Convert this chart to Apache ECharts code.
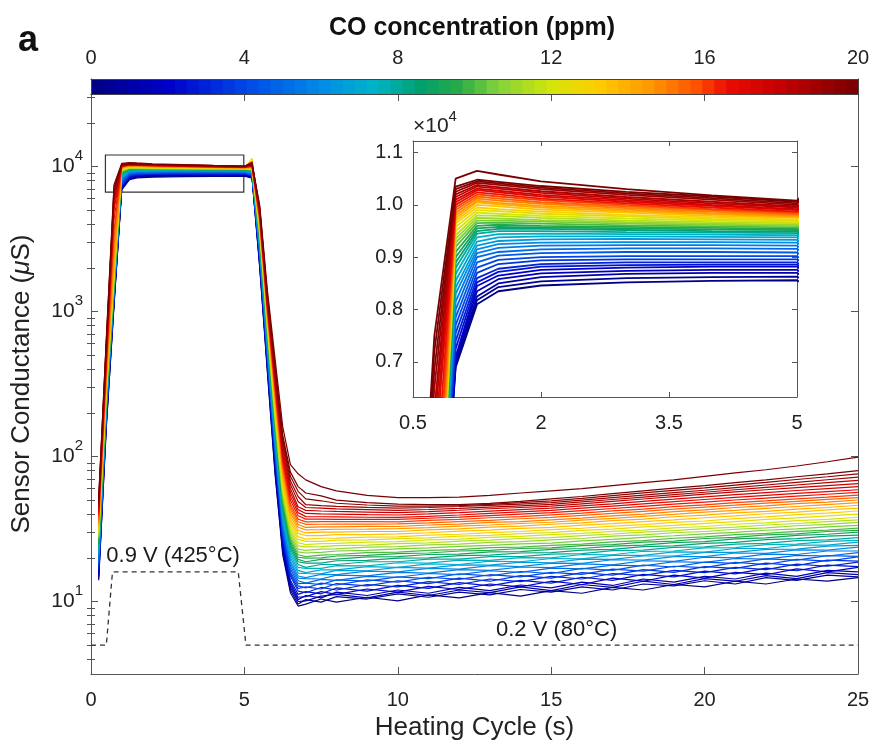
<!DOCTYPE html>
<html><head><meta charset="utf-8">
<script src="https://cdn.jsdelivr.net/npm/echarts@6/dist/echarts.min.js"></script>
<style>html,body{margin:0;padding:0;background:#fff}#c{width:872px;height:746px}</style>
</head><body><div id="c"></div>
<script>
// ---------- data ----------
const riseTimes = [0.25,0.5,0.75,1,1.25,1.5,2,3,4,5,5.25,5.5,5.75,6,6.25,6.5,6.75];
const tailTimes = [7,7.5,8,9,10,11,12,13,14,15,16,17,18,19,20,21,22,23,24,25];
const concentrations = [0,0.5,1,1.5,2,2.5,3,3.5,4,4.5,5,5.5,6,6.5,7,7.5,8,8.5,9,9.5,10,10.5,11,11.5,12,12.5,13,13.5,14,14.5,15,15.5,16,16.5,17,17.5,18,18.5,19,19.5,20,20];
const riseValues = [
[14,160,1100,6900,8100,8350,8460,8520,8550,8560,8300,2000,380,75,21,11.5,9.3],
[14.5,165,1120,6950,8180,8430,8540,8600,8620,8630,8400,2050,395,78,22,12,9.6],
[15,170,1150,7000,8250,8500,8620,8680,8700,8700,8450,2100,410,82,23,12.5,10],
[15.5,175,1170,7050,8350,8580,8690,8740,8760,8760,8500,2150,420,86,24,13,10.3],
[16,180,1200,7100,8450,8650,8760,8800,8820,8820,8550,2200,430,90,25,13.5,10.7],
[16.5,185,1230,7250,8520,8720,8820,8850,8860,8860,8600,2270,445,94,26,14,11.2],
[17,190,1260,7400,8600,8780,8870,8900,8900,8900,8650,2330,460,97,27.5,15,11.8],
[17.5,195,1290,7550,8700,8870,8940,8960,8960,8960,8700,2400,475,101,29,15.5,12.3],
[18,200,1320,7700,8800,8950,9000,9020,9020,9020,8750,2450,490,105,30,16,12.8],
[18.5,205,1350,7850,8900,9030,9080,9100,9100,9090,8820,2520,505,110,31,16.8,13.3],
[19,210,1380,8000,9000,9100,9150,9170,9170,9160,8900,2580,525,115,32.5,17.5,13.9],
[20,215,1400,8150,9080,9180,9220,9230,9230,9220,8950,2640,540,120,34,18.3,14.5],
[21,220,1420,8300,9150,9250,9280,9290,9290,9280,9000,2700,560,125,35,19,15],
[21.5,225,1440,8420,9220,9310,9340,9350,9340,9330,9060,2780,580,130,37,20,15.7],
[22,230,1460,8550,9300,9380,9400,9400,9390,9380,9120,2850,600,135,38.5,21,16.4],
[23,235,1480,8680,9380,9440,9450,9440,9430,9420,9180,2920,620,140,40,22,17.2],
[24,240,1500,8800,9450,9500,9500,9480,9470,9460,9250,3000,640,145,42,23,18],
[24.5,245,1520,8900,9500,9540,9540,9520,9500,9490,9300,3080,660,152,44,24,18.8],
[25,250,1540,9000,9550,9580,9570,9550,9530,9520,9350,3150,680,158,46,25,19.5],
[26,255,1560,9100,9600,9620,9600,9580,9560,9540,9400,3220,700,164,48,26,20.2],
[27,260,1600,9200,9650,9660,9640,9610,9590,9570,9450,3300,720,170,50,27,21],
[27.5,265,1650,9280,9700,9700,9680,9640,9620,9600,9500,3380,745,178,52.5,28.2,22],
[28,270,1700,9350,9750,9740,9710,9670,9640,9620,9520,3470,770,186,55,29.5,23],
[29,280,1750,9420,9800,9790,9750,9700,9670,9650,9560,3560,795,193,57.5,31,24.2],
[30,290,1800,9500,9850,9830,9790,9740,9700,9670,9600,3650,820,200,60,32,25.5],
[30.5,300,1850,9580,9900,9880,9830,9780,9730,9700,9650,3740,845,210,63,33.7,26.8],
[31,310,1900,9650,9950,9920,9870,9810,9760,9720,11400,3820,870,220,66,35.5,28],
[32,320,1950,9700,10000,9970,9910,9850,9790,9750,9750,3910,895,230,69,37,29.5],
[33,330,2000,9750,10050,10010,9950,9880,9820,9770,9800,4000,920,240,72,39,31],
[34,345,2400,9800,10080,10040,9980,9910,9840,9790,9850,4100,950,252,76,41,32.5],
[35,360,2800,9850,10120,10080,10020,9940,9870,9810,9900,4200,975,265,80,43,34],
[36.5,390,3200,9900,10160,10120,10050,9970,9900,9830,9950,4300,1000,278,84,45,35.5],
[38,420,3600,9950,10200,10160,10090,10000,9920,9850,10000,4400,1030,290,88,47,37],
[39.5,445,4300,10000,10240,10200,10120,10030,9950,9870,10050,4500,1060,305,93,50,39],
[41,470,5000,10050,10280,10240,10160,10060,9980,9900,10100,4600,1090,320,98,53,41],
[42.5,495,5400,10100,10310,10270,10190,10090,10000,9920,10150,4700,1120,335,104,56.5,43],
[44,520,5800,10150,10350,10310,10230,10120,10030,9950,10200,4800,1150,350,110,60,45],
[45.5,550,6100,10200,10380,10340,10260,10150,10060,9970,10250,4900,1190,370,118,64,49],
[47,580,6500,10250,10420,10380,10300,10190,10100,10000,10800,5000,1230,385,126,68,53],
[48.5,610,6850,10300,10450,10410,10330,10220,10130,10030,10350,5100,1270,400,133,73,57.5],
[50,640,7200,10350,10480,10440,10360,10250,10160,10060,10400,5200,1300,420,140,78,62],
[52,660,7500,10500,10650,10580,10450,10300,10180,10080,10500,5400,1400,470,160,88,76]
];
const tailValues = [
[9.6,10.4,9.9,10.7,10.1,11.1,10.6,11.5,10.9,11.9,11.4,12.5,12.0,13.1,12.6,13.8,13.2,14.3,13.8,14.6],
[10.3,9.9,10.8,10.4,11.3,10.7,11.6,11.1,12.1,11.6,12.6,12.0,13.2,12.8,13.9,13.2,14.6,14.0,15.2,14.8],
[10.1,10.9,11.2,10.6,11.6,11.0,12.0,11.5,12.6,11.9,13.1,12.5,13.8,13.1,14.4,13.8,15.1,14.4,15.8,15.3],
[11.0,10.6,11.6,11.0,12.0,11.4,12.5,11.9,13.0,12.4,13.6,12.9,14.3,13.6,14.9,14.3,15.7,14.9,16.4,16.0],
[10.8,11.7,11.2,12.2,11.6,12.7,12.1,13.2,12.6,13.8,13.1,14.5,13.8,15.2,14.5,15.9,15.3,16.8,16.0,17.2],
[11.7,11.3,12.4,11.8,12.9,12.3,13.5,12.8,14.0,13.4,14.7,14.0,15.4,14.8,16.2,15.5,17.0,16.3,17.8,17.4],
[11.5,12.5,12.0,13.1,12.6,13.7,13.1,14.3,13.7,14.9,14.3,15.6,15.1,16.4,15.8,17.2,16.6,18.1,17.5,18.7],
[12.6,12.2,13.3,12.8,13.9,13.3,14.5,13.8,15.1,14.5,15.8,15.2,16.6,15.9,17.4,16.9,18.4,17.7,19.3,19.0],
[12.4,13.4,13.0,14.1,13.6,14.7,14.2,15.3,14.8,15.9,15.4,16.7,16.2,17.5,17.1,18.6,18.0,19.5,19.0,20.3],
[13.4,13.1,14.1,13.8,14.8,14.4,15.5,15.0,16.1,15.6,16.9,16.4,17.8,17.3,18.7,18.3,19.7,19.3,20.7,20.5],
[13.4,14.2,14.0,14.9,14.7,15.6,15.3,16.3,15.9,17.0,16.8,17.8,17.6,18.8,18.6,19.8,19.6,20.8,20.6,21.7],
[14.4,14.3,15.2,15.0,15.9,15.7,16.6,16.4,17.3,17.1,18.2,17.9,19.1,18.9,20.2,20.0,21.2,21.1,22.3,22.3],
[14.6,15.4,15.3,16.2,16.0,16.9,16.7,17.7,17.4,18.4,18.3,19.4,19.3,20.4,20.4,21.6,21.5,22.7,22.6,23.7],
[15.6,15.5,16.4,16.3,17.2,17.0,17.9,17.8,18.7,18.5,19.6,19.5,20.6,20.6,21.8,21.8,22.9,23.0,24.1,24.4],
[15.8,16.5,16.5,17.4,17.2,18.2,18.0,19.0,18.8,19.8,19.7,20.8,20.8,22.0,21.9,23.2,23.2,24.5,24.5,25.7],
[16.9,16.9,17.7,17.6,18.5,18.4,19.3,19.2,20.1,20.0,21.1,21.0,22.2,22.3,23.4,23.5,24.7,24.9,26.0,26.4],
[17.2,18.0,18.0,18.8,18.8,19.6,19.6,20.4,20.4,21.2,21.4,22.4,22.6,23.6,23.8,24.9,25.2,26.3,26.6,27.6],
[18.4,18.4,19.1,19.2,19.9,20.0,20.7,20.9,21.6,21.7,22.6,22.9,23.9,24.2,25.2,25.6,26.7,27.1,28.2,28.7],
[18.8,19.5,19.6,20.3,20.4,21.1,21.2,22.0,22.1,22.9,23.2,24.1,24.5,25.5,25.9,27.0,27.5,28.6,29.1,30.1],
[19.9,20.0,20.6,20.8,21.4,21.6,22.3,22.5,23.2,23.4,24.3,24.7,25.7,26.1,27.2,27.7,28.8,29.3,30.4,30.9],
[20.4,20.9,21.1,21.7,21.9,22.5,22.8,23.5,23.7,24.4,24.9,25.8,26.3,27.3,27.9,28.9,29.5,30.5,31.1,32.1],
[21.6,21.8,22.3,22.5,23.1,23.4,24.0,24.4,25.0,25.3,26.2,26.8,27.7,28.4,29.3,30.0,31.0,31.7,32.7,33.5],
[22.5,23.0,23.1,23.7,23.9,24.6,24.9,25.6,25.9,26.6,27.2,28.2,28.8,29.8,30.4,31.5,32.2,33.3,34.0,35.1],
[23.8,23.9,24.3,24.5,25.1,25.4,26.1,26.5,27.2,27.6,28.5,29.2,30.1,30.8,31.8,32.6,33.7,34.5,35.6,36.5],
[24.7,25.1,25.2,25.7,25.9,26.6,26.9,27.7,28.1,28.9,29.5,30.5,31.1,32.2,32.9,34.1,34.9,36.1,36.9,38.1],
[26.0,26.0,26.5,26.6,27.1,27.5,28.2,28.6,29.4,29.9,30.9,31.6,32.7,33.5,34.6,35.5,36.8,37.7,39.0,40.0],
[26.9,27.3,27.4,27.8,27.9,28.7,29.1,29.9,30.4,31.3,32.0,33.1,33.9,35.1,35.9,37.3,38.3,39.7,40.7,42.1],
[28.5,28.5,28.9,28.9,29.3,29.8,30.6,31.1,31.9,32.5,33.6,34.4,35.6,36.6,37.8,38.9,40.3,41.4,42.8,44.0],
[29.7,30.1,30.1,30.4,30.4,31.2,31.7,32.6,33.1,34.1,34.9,36.1,37.0,38.4,39.4,40.9,41.9,43.4,44.5,46.1],
[31.2,31.3,31.5,31.6,31.8,32.3,33.1,33.7,34.5,35.2,36.4,37.4,38.7,39.9,41.3,42.5,43.9,45.2,46.6,48.0],
[32.4,32.7,32.7,33.0,32.9,33.7,34.2,35.1,35.6,36.6,37.6,39.0,40.1,41.7,42.9,44.5,45.7,47.3,48.5,50.1],
[34.0,34.1,34.2,34.2,34.3,34.9,35.6,36.3,37.2,38.0,39.3,40.5,41.9,43.3,44.8,46.2,47.7,49.1,50.6,52.0],
[35.4,35.6,35.5,35.6,35.4,36.3,36.8,37.8,38.5,39.6,40.7,42.2,43.4,45.1,46.4,48.1,49.4,51.1,52.4,54.1],
[37.0,37.0,36.9,36.8,36.8,37.5,38.2,39.1,40.0,41.0,42.4,43.8,45.3,46.9,48.5,50.1,51.7,53.3,54.9,56.5],
[38.5,38.4,38.3,38.1,38.0,38.7,39.5,40.5,41.5,42.5,44.0,45.5,47.1,48.8,50.5,52.2,53.9,55.6,57.3,59.0],
[40.5,40.2,40.0,39.7,39.5,40.2,41.0,42.0,43.0,44.0,45.6,47.2,49.0,50.8,52.7,54.6,56.4,58.3,60.1,62.0],
[42.5,42.1,41.8,41.4,41.0,41.7,42.6,43.6,44.5,45.5,47.2,49.0,50.9,52.9,55.0,57.0,59.0,61.0,63.0,65.0],
[44.5,44.0,43.5,43.0,42.5,43.1,43.9,44.8,45.7,46.7,48.6,50.5,52.5,54.6,56.7,59.0,61.3,63.6,66.0,68.5],
[46.5,45.8,45.3,44.6,44.0,44.5,45.2,46.0,47.0,48.0,50.0,52.1,54.2,56.3,58.5,61.0,63.6,66.3,69.1,72.0],
[51,49.5,47.6,46.3,45.5,45.5,45.8,46.7,48.0,49.5,51.5,53.8,56.1,58.4,60.7,63.5,66.3,69.4,72.5,76.0],
[56,53.5,50,48,47,46.5,46.5,47.5,49,51,53,55.5,58,60.5,63,66,69,72.5,76,80],
[69,62,58,54,52,52,52.5,54,56,58,60,63,66,69,73,77,81,86,92,99]
];
const heaterTimes = [0,0.5,0.7,4.8,5.05,25];
const heaterLevels = [5,5,16,16,5,5];
const annotationTexts = ['0.9 V (425°C)','0.2 V (80°C)'];
const annotationTimes = [0.5,13.2];
const annotationLevels = [20.5,6.4];
const zoomBoxTimes = [0.47,4.98];
const zoomBoxLevels = [6650,12000];
const colorbarTicks = [0,4,8,12,16,20];
const mainYTicks = [10,100,1000,10000];
const mainYMinorTicks = [4,5,6,7,8,9,20,30,40,50,60,70,80,90,200,300,400,500,600,700,800,900,2000,3000,4000,5000,6000,7000,8000,9000,20000,30000];
const insetXTicks = [0.5,2,3.5,5];
const insetYTicks = [7000,8000,9000,10000,11000];

// ---------- colormap ----------
const cmapStops = [[0,[0,0,130]],[0.1,[0,0,200]],[0.2,[0,70,230]],[0.3,[0,140,230]],[0.37,[0,180,200]],
 [0.43,[0,160,110]],[0.48,[40,170,70]],[0.53,[130,210,60]],[0.6,[210,230,10]],[0.66,[255,205,0]],
 [0.73,[255,150,0]],[0.79,[255,80,0]],[0.83,[235,10,0]],[0.9,[195,0,0]],[1,[120,0,0]]];
function cmap(p){
  p = Math.max(0, Math.min(1, p));
  for (let i = 1; i < cmapStops.length; i++){
    const a = cmapStops[i-1], b = cmapStops[i];
    if (p <= b[0]){
      const f = (p - a[0]) / (b[0] - a[0]);
      const c = a[1].map((v, j) => Math.round(v + (b[1][j] - v) * f));
      return 'rgb(' + c.join(',') + ')';
    }
  }
  return 'rgb(120,0,0)';
}
const nCells = 64;
const colorbarCells = [];
for (let i = 0; i < nCells; i++) colorbarCells.push([i*20/nCells, (i+1)*20/nCells, (i+0.5)/nCells]);

// ---------- chart ----------
const FONT = 'Liberation Sans, Arial, Helvetica, sans-serif';
const AX = '#555';
const TXT = '#222';
const chart = echarts.init(document.getElementById('c'), null, {renderer:'canvas'});

const series = [];
concentrations.forEach((c, k) => {
  const col = cmap(c/20);
  const pts = riseTimes.map((t,i)=>[t, riseValues[k][i]]).concat(tailTimes.map((t,i)=>[t, tailValues[k][i]]));
  series.push({type:'line', xAxisIndex:0, yAxisIndex:0, data:pts, symbol:'none', silent:true,
    lineStyle:{width:1.2, color:col}, itemStyle:{color:col}, z:2});
});
concentrations.forEach((c, k) => {
  const col = cmap(c/20);
  const pts = riseTimes.slice(0,11).map((t,i)=>[t, riseValues[k][i]]);
  series.push({type:'line', xAxisIndex:2, yAxisIndex:4, data:pts, symbol:'none', silent:true, clip:true,
    lineStyle:{width:1.8, color:col}, itemStyle:{color:col}, z:2});
});
series.push({type:'line', xAxisIndex:0, yAxisIndex:0, symbol:'none', silent:true,
  data: heaterTimes.map((t,i)=>[t, heaterLevels[i]]),
  lineStyle:{type:[5,4], width:1.3, color:'#333'}, z:3,
  markArea:{silent:true, itemStyle:{color:'rgba(0,0,0,0)', borderColor:'#333', borderWidth:1.2},
    data:[[{coord:[zoomBoxTimes[0], zoomBoxLevels[0]]},{coord:[zoomBoxTimes[1], zoomBoxLevels[1]]}]]}
});
series.push({type:'custom', xAxisIndex:0, yAxisIndex:0, silent:true, z:4,
  data: annotationTexts.map((s,i)=>[annotationTimes[i], annotationLevels[i], i]),
  renderItem:(params, api) => {
    const p = api.coord([api.value(0), api.value(1)]);
    return {type:'text', x:p[0], y:p[1], style:{text:annotationTexts[api.value(2)], fill:'#1a1a1a',
      font:'22px '+FONT, align:'left', verticalAlign:'middle'}};
  }});
series.push({type:'custom', xAxisIndex:4, yAxisIndex:6, silent:true, data: colorbarCells,
  renderItem:(params, api) => {
    const p0 = api.coord([api.value(0), 0]);
    const p1 = api.coord([api.value(1), 1]);
    return {type:'rect', shape:{x:p0[0], y:p1[1], width:p1[0]-p0[0]+0.7, height:p0[1]-p1[1]},
      style:{fill:cmap(api.value(2))}};
  }, z:1});

const supLabel = v => '{b|10}{s|' + Math.round(Math.log10(v)) + '}';
const noSplit = {show:false};
const line1 = {show:true, onZero:false, lineStyle:{color:AX, width:1}};

const option = {
  animation:false,
  textStyle:{fontFamily:FONT},
  graphic:[
    {type:'text', x:18, y:41, style:{text:'a', font:'bold 36px '+FONT, fill:'#111', align:'left', verticalAlign:'middle'}},
    {type:'text', x:472, y:28, style:{text:'CO concentration (ppm)', font:'bold 25px '+FONT, fill:'#111', align:'center', verticalAlign:'middle'}}
  ],
  grid:[
    {left:91, top:94, width:767, height:580, containLabel:false, outerBoundsMode:'none'},
    {left:413, top:141, width:384, height:256, containLabel:false, outerBoundsMode:'none'},
    {left:91, top:79, width:767, height:15, containLabel:false, outerBoundsMode:'none'}
  ],
  xAxis:[
    {gridIndex:0, type:'value', min:0, max:25, interval:5, position:'bottom', axisLine:line1,
      axisTick:{inside:true, length:7, lineStyle:{color:AX}}, splitLine:noSplit,
      axisLabel:{fontSize:20, color:TXT, margin:16},
      name:'Heating Cycle (s)', nameLocation:'middle', nameGap:41, nameTextStyle:{fontSize:26, color:TXT}},
    {gridIndex:0, type:'value', min:0, max:25, interval:5, position:'top', axisLine:line1,
      axisTick:{inside:true, length:7, lineStyle:{color:AX}}, axisLabel:{show:false}, splitLine:noSplit},
    {gridIndex:1, type:'value', min:0.5, max:5, position:'bottom', axisLine:line1,
      axisTick:{inside:true, length:5, customValues:insetXTicks, lineStyle:{color:AX}}, splitLine:noSplit,
      axisLabel:{fontSize:20, color:TXT, margin:16, customValues:insetXTicks}},
    {gridIndex:1, type:'value', min:0.5, max:5, position:'top', axisLine:line1,
      axisTick:{inside:true, length:5, customValues:insetXTicks, lineStyle:{color:AX}}, axisLabel:{show:false}, splitLine:noSplit},
    {gridIndex:2, type:'value', min:0, max:20, interval:4, position:'top', z:5,
      axisLine:{show:true, onZero:false, lineStyle:{color:'#444', width:1}}, axisTick:{show:false}, splitLine:noSplit,
      axisLabel:{fontSize:20, color:TXT, margin:11}},
    {gridIndex:2, type:'value', min:0, max:20, position:'bottom', z:5,
      axisLine:{show:true, onZero:false, lineStyle:{color:'#444', width:1}}, axisTick:{show:false}, axisLabel:{show:false}, splitLine:noSplit}
  ],
  yAxis:[
    {gridIndex:0, type:'log', logBase:10, min:Math.pow(10,0.5), max:Math.pow(10,4.5), position:'left', axisLine:line1,
      axisTick:{inside:true, length:7, customValues:mainYTicks, lineStyle:{color:AX}}, splitLine:noSplit, minorTick:{show:false},
      axisLabel:{customValues:mainYTicks, margin:8, color:TXT, formatter:supLabel,
        rich:{b:{fontSize:21, color:TXT, verticalAlign:'bottom', lineHeight:21},
              s:{fontSize:15, color:TXT, verticalAlign:'bottom', lineHeight:15, padding:[0,0,14,0]}}},
      name:'Sensor Conductance ({i|μ}S)', nameLocation:'middle', nameGap:56,
      nameTextStyle:{fontSize:26, color:TXT, rich:{i:{fontSize:26, fontStyle:'italic', color:TXT}}}},
    {gridIndex:0, type:'log', logBase:10, min:Math.pow(10,0.5), max:Math.pow(10,4.5), position:'left',
      axisLine:{show:false}, axisTick:{inside:true, length:4, customValues:mainYMinorTicks, lineStyle:{color:AX}},
      axisLabel:{show:false}, splitLine:noSplit},
    {gridIndex:0, type:'log', logBase:10, min:Math.pow(10,0.5), max:Math.pow(10,4.5), position:'right', axisLine:line1,
      axisTick:{inside:true, length:7, customValues:mainYTicks, lineStyle:{color:AX}}, axisLabel:{show:false}, splitLine:noSplit},
    {gridIndex:0, type:'log', logBase:10, min:Math.pow(10,0.5), max:Math.pow(10,4.5), position:'right',
      axisLine:{show:false}, axisTick:{inside:true, length:4, customValues:mainYMinorTicks, lineStyle:{color:AX}},
      axisLabel:{show:false}, splitLine:noSplit},
    {gridIndex:1, type:'value', min:6330, max:11220, position:'left', axisLine:line1,
      axisTick:{inside:true, length:5, customValues:insetYTicks, lineStyle:{color:AX}}, splitLine:noSplit,
      axisLabel:{fontSize:20, color:TXT, margin:10, customValues:insetYTicks, formatter:v => (v/10000).toFixed(1)},
      name:'{x|×10}{s|4}', nameLocation:'end', nameGap:4,
      nameTextStyle:{align:'left', verticalAlign:'bottom', rich:{
        x:{fontSize:21, color:TXT, verticalAlign:'bottom', lineHeight:21},
        s:{fontSize:15, color:TXT, verticalAlign:'bottom', lineHeight:15, padding:[0,0,13,0]}}}},
    {gridIndex:1, type:'value', min:6330, max:11220, position:'right', axisLine:line1,
      axisTick:{inside:true, length:5, customValues:insetYTicks, lineStyle:{color:AX}}, axisLabel:{show:false}, splitLine:noSplit},
    {gridIndex:2, type:'value', min:0, max:1, position:'left', z:5,
      axisLine:{show:true, onZero:false, lineStyle:{color:'#444', width:1}}, axisTick:{show:false}, axisLabel:{show:false}, splitLine:noSplit},
    {gridIndex:2, type:'value', min:0, max:1, position:'right', z:5,
      axisLine:{show:true, onZero:false, lineStyle:{color:'#444', width:1}}, axisTick:{show:false}, axisLabel:{show:false}, splitLine:noSplit}
  ],
  series: series
};
chart.setOption(option);
</script>
</body></html>
